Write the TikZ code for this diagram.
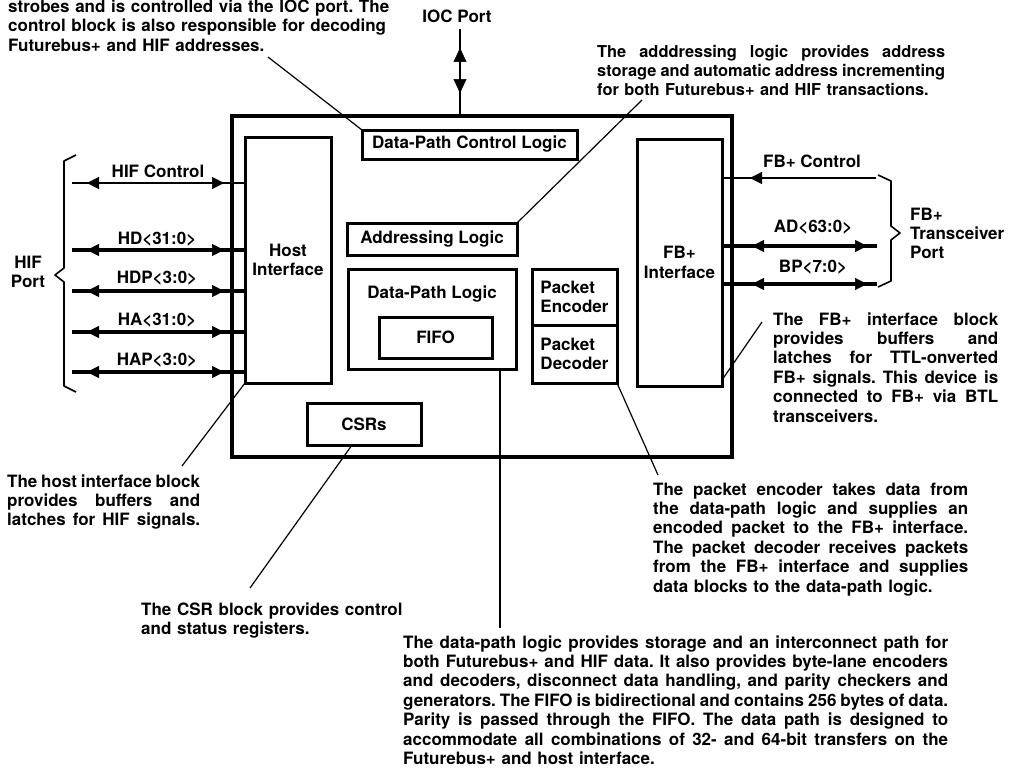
\documentclass[tikz,border=0pt]{standalone}
\usepackage{fontspec}
\setmainfont{TeX Gyre Heros}
\usetikzlibrary{arrows.meta,decorations.markings,calc}
\newcommand{\jl}[1]{\makebox[\linewidth][s]{\spaceskip=.278em plus 2em minus .15em\relax #1}}
\begin{document}
\begin{tikzpicture}[x=1pt,y=-1pt,
  every node/.append style={font=\fontsize{17}{19.4}\selectfont\bfseries\frenchspacing},
  box/.style={draw, line width=3pt, inner sep=0pt, outer sep=0pt, align=center},
  bus/.style={line width=4.3pt},
  ctl/.style={line width=1.5pt},
  lead/.style={line width=1.2pt},
  brc/.style={line width=1.6pt, line join=round},
  txt/.style={inner sep=0pt, anchor=base west, align=left},
  lbl/.style={inner sep=0pt, anchor=base},
  hifar/.style={postaction={decorate}, decoration={markings,
     mark=at position 15pt with {\arrowreversed{Triangle[length=12pt,width=12pt,line width=0.5pt]}},
     mark=at position -21pt with {\arrow{Triangle[length=12pt,width=12pt,line width=0.5pt]}}}},
  fbar/.style={postaction={decorate}, decoration={markings,
     mark=at position 30pt with {\arrowreversed{Triangle[length=12pt,width=12pt,line width=0.5pt]}},
     mark=at position -10pt with {\arrow{Triangle[length=12pt,width=12pt,line width=0.5pt]}}}},
  fbcar/.style={postaction={decorate}, decoration={markings,
     mark=at position 28pt with {\arrowreversed{Triangle[length=12pt,width=12pt,line width=0.5pt]}}}},
  iocar/.style={postaction={decorate}, decoration={markings,
     mark=at position 23pt with {\arrowreversed{Triangle[length=14pt,width=13pt,line width=0.5pt]}},
     mark=at position 68pt with {\arrow{Triangle[length=14pt,width=13pt,line width=0.5pt]}}}}
]
\fill[white] (0,0) rectangle (1014,768);
\useasboundingbox (0,0) rectangle (1014,768);

% ---------- blocks ----------
\node[box, line width=3.6pt, minimum width=500pt, minimum height=341pt] (main) at (482,286.5) {};
\node[box, minimum width=86pt, minimum height=246pt] (host) at (288,260) {Host\\Interface};
\node[box, minimum width=85pt, minimum height=247pt] (fb) at (679.5,262.5) {FB+\\Interface};
\node[box, minimum width=215pt, minimum height=29pt] (dpc) at (469.5,144.5) {Data-Path Control Logic};
\node[box, minimum width=170pt, minimum height=32pt] (addr) at (432,239) {Addressing Logic};
\node[box, minimum width=168pt, minimum height=100pt] (dpl) at (432,319) {};
\node[lbl] (dpllbl) at (432,298) {Data-Path Logic};
\node[box, minimum width=113pt, minimum height=41pt] (fifo) at (435.5,337.5) {FIFO};
\node[box, align=left, minimum width=85pt, minimum height=56pt] (penc) at (574.5,297) {Packet\\Encoder};
\node[box, align=left, minimum width=85pt, minimum height=58pt] (pdec) at (574.5,354) {Packet\\Decoder};
\node[box, minimum width=114pt, minimum height=42pt] (csr) at (364,424) {CSRs};

% ---------- IOC port ----------
\node[lbl] (ioclbl) at (457,23) {IOC Port};
\coordinate (iocT) at (460,29);
\draw[ctl, iocar] (iocT |- main.north) -- (iocT);

% ---------- HIF side ----------
\coordinate (hcL) at (72,183);
\coordinate (hdL) at (72,250);
\coordinate (hdpL) at (72,291);
\coordinate (haL) at (72,332);
\coordinate (hapL) at (72,372);
\draw[ctl, hifar] (hcL) -- (hcL -| host.west);
\draw[bus, hifar] (hdL) -- (hdL -| host.west);
\draw[bus, hifar] (hdpL) -- (hdpL -| host.west);
\draw[bus, hifar] (haL) -- (haL -| host.west);
\draw[bus, hifar] (hapL) -- (hapL -| host.west);
\node[lbl] (hifctl) at (158,177) {HIF Control};
\node[lbl] (hdlbl) at (157,244) {HD<31:0>};
\node[lbl] (hdplbl) at (157,283) {HDP<3:0>};
\node[lbl] (halbl) at (157,325) {HA<31:0>};
\node[lbl] (haplbl) at (157,365) {HAP<3:0>};
\draw[brc] (76,155) -- (64,161) -- (64,268) -- (55,275) -- (64,282) -- (64,386) -- (76,392);
\node[lbl, text width=50pt, align=center] (hifport) at (28,268) {HIF\\Port};

% ---------- FB+ side ----------
\coordinate (fbcR) at (876,178);
\coordinate (adR) at (877,246);
\coordinate (bpR) at (877,284);
\draw[ctl, fbcar] (fbcR -| fb.east) -- (fbcR);
\draw[bus, fbar] (adR -| fb.east) -- (adR);
\draw[bus, fbar] (bpR -| fb.east) -- (bpR);
\node[lbl] (fbctl) at (812,167) {FB+ Control};
\node[lbl] (adlbl) at (813,232) {AD<63:0>};
\node[lbl] (bplbl) at (813,272) {BP<7:0>};
\draw[brc] (878,175) -- (891,181) -- (891,226) -- (900,233) -- (891,240) -- (891,281) -- (878,287);
\node[txt, text width=110pt] (fbport) at (910,220) {FB+\\Transceiver\\Port};

% ---------- annotation texts ----------
\node[txt, text width=420pt] (tltxt) at (8,12.5) {strobes and is controlled via the IOC port. The\\control block is also responsible for decoding\\Futurebus+ and HIF addresses.};
\node[txt, text width=348pt, font=\fontsize{16.4}{19.4}\selectfont\bfseries\frenchspacing] (addrtxt) at (597,57) {\jl{The adddressing logic provides address}\\\jl{storage and automatic address incrementing}\\for both Futurebus+ and HIF transactions.};
\node[txt, text width=225pt] (fbtxt) at (773,325) {\jl{The FB+ interface block}\\\jl{provides buffers and}\\\jl{latches for TTL-onverted}\\\jl{FB+ signals. This device is}\\\jl{connected to FB+ via BTL}\\transceivers.};
\node[txt, text width=315pt] (pktxt) at (653,495) {\jl{The packet encoder takes data from}\\\jl{the data-path logic and supplies an}\\\jl{encoded packet to the FB+ interface.}\\\jl{The packet decoder receives packets}\\\jl{from the FB+ interface and supplies}\\data blocks to the data-path logic.};
\node[txt, text width=193pt] (hosttxt) at (7,487) {\jl{The host interface block}\\\jl{provides buffers and}\\\jl{latches for HIF signals.}};
\node[txt, text width=300pt] (csrtxt) at (141,615) {The CSR block provides control\\and status registers.};
\node[txt, text width=545pt] (dptxt) at (403,648) {\jl{The data-path logic provides storage and an interconnect path for}\\\jl{both Futurebus+ and HIF data. It also provides byte-lane encoders}\\\jl{and decoders, disconnect data handling, and parity checkers and}\\\jl{generators. The FIFO is bidirectional and contains 256 bytes of data.}\\\jl{Parity is passed through the FIFO. The data path is designed to}\\\jl{accommodate all combinations of 32- and 64-bit transfers on the}\\Futurebus+ and host interface.};

% ---------- leader lines ----------
\coordinate (tlEnd) at (268,57);
\coordinate (adEnd) at (642,100);
\coordinate (hostEnd) at (182,466);
\coordinate (csrEnd) at (250,588);
\coordinate (dpEnd) at (500,628);
\coordinate (pdEnd) at (658,475);
\coordinate (fbEnd) at (762,322);
\draw[lead] (tlEnd) -- (dpc.north west);
\draw[lead] (adEnd) -- (addr.north east);
\draw[lead] (hostEnd) -- (host.south west);
\draw[lead] (csrEnd) -- ($(csr.south west)!0.395!(csr.south east)$);
\draw[lead] (dpEnd) -- (dpEnd |- dpl.south);
\draw[lead] (pdEnd) -- (pdec.south east);
\draw[lead] (fbEnd) -- ($(fb.south east)+(0,-6)$);
\end{tikzpicture}
\end{document}
